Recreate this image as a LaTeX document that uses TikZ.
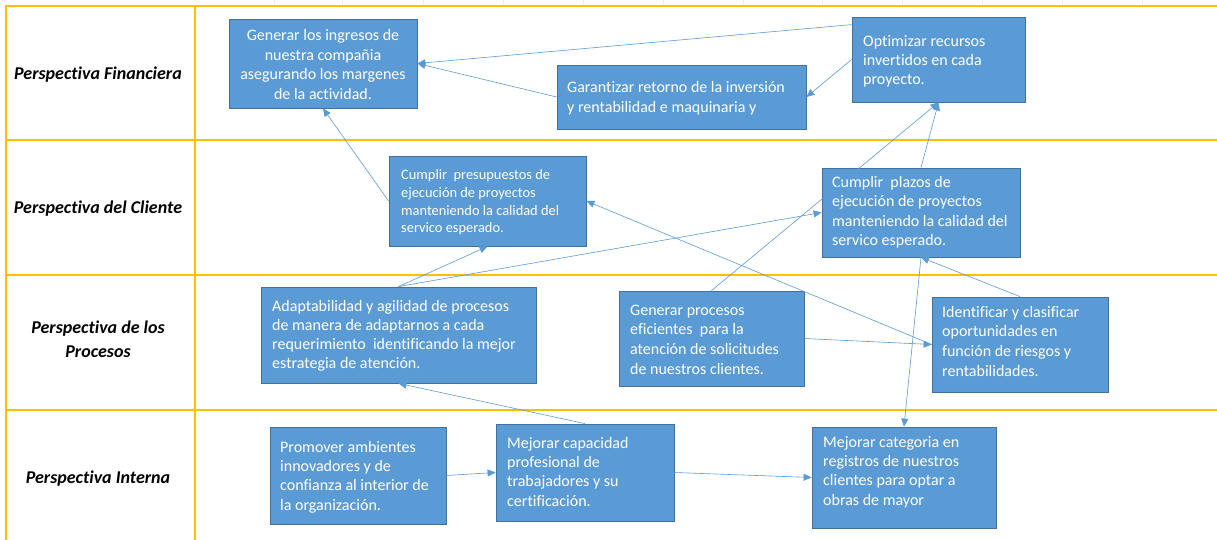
\documentclass[tikz,border=0pt]{standalone}
\usepackage{fontspec}
\setmainfont{Carlito}[Ligatures={NoCommon}]
\usetikzlibrary{arrows.meta,calc}
\definecolor{boxfill}{HTML}{5B9BD5}
\definecolor{boxline}{HTML}{41719C}
\definecolor{linkcol}{HTML}{5B9BD5}
\definecolor{gridcol}{HTML}{FFC000}
\newcommand{\boxtext}{\fontsize{16}{19.4}\selectfont}
\newcommand{\smallboxtext}{\fontsize{14.4}{17.6}\selectfont}
\newcommand{\rowtitle}{\fontsize{18}{23.3}\selectfont\bfseries\itshape}
\tikzset{
  objbox/.style={draw=boxline, fill=boxfill, line width=0.8pt, inner sep=0pt},
  objtext/.style={anchor=base west, inner sep=0pt, text=white},
  rowlabel/.style={anchor=base, inner sep=0pt, align=center, font=\rowtitle},
  link/.style={draw=linkcol, line width=0.6pt, -{Triangle[length=8pt,width=7pt]}},
  gridline/.style={draw=gridcol, line width=1.3pt},
  tick/.style={draw=black!7, line width=0.5pt}
}
\begin{document}
\begin{tikzpicture}[x=1pt,y=-1pt]
\useasboundingbox (0,0) rectangle (1217,540);
\fill[white] (0,0) rectangle (1217,540);

% faint sheet column marks above the table
\foreach \cx in {274,342,423,503,583,663,743,822,902,982,1062,1142}
  \draw[tick] (\cx,0) -- (\cx,5);

% table rules
\draw[gridline] (6,540) -- (6,6) -- (1217,6);
\draw[gridline] (195,6) -- (195,540);
\foreach \ry in {140,275,410}
  \draw[gridline] (6,\ry) -- (1217,\ry);

% row titles
\node[rowlabel] (lfin) at (98,80) {Perspectiva Financiera};
\node[rowlabel] (lcli) at (98,213) {Perspectiva del Cliente};
\node[rowlabel, anchor=north] (lpro) at (98,321) {Perspectiva de los\\Procesos};
\node[rowlabel] (lint) at (98,483) {Perspectiva Interna};

% objective boxes
\node[objbox, minimum width=188, minimum height=89] (gen) at (323,63.5) {};
\node[objbox, minimum width=249, minimum height=64] (gar) at (681.5,97) {};
\node[objbox, minimum width=173, minimum height=85] (opt) at (938.5,59.5) {};
\node[objbox, minimum width=197, minimum height=90] (cp) at (487.5,201) {};
\node[objbox, minimum width=198, minimum height=89] (pl) at (921,212.5) {};
\node[objbox, minimum width=275, minimum height=96] (ad) at (398.5,335) {};
\node[objbox, minimum width=185, minimum height=95] (gp) at (711.5,338.5) {};
\node[objbox, minimum width=176, minimum height=95] (id) at (1020,344.5) {};
\node[objbox, minimum width=176, minimum height=97] (pr) at (358,475.5) {};
\node[objbox, minimum width=178, minimum height=97] (mcap) at (585,472.5) {};
\node[objbox, minimum width=184, minimum height=101] (mc) at (904,477.5) {};

% box texts (placed at the first baseline)
\node[objtext, anchor=base] (gent) at (323,41) {\parbox[t]{188pt}{\boxtext\centering
  Generar los ingresos de\\nuestra compañia\\asegurando los margenes\\de la actividad.}};
\node[objtext] (gart) at (567,93) {\parbox[t]{240pt}{\fontsize{16}{20}\selectfont
  Garantizar retorno de la inversión\\y rentabilidad e maquinaria y}};
\node[objtext] (optt) at (863,47) {\parbox[t]{160pt}{\fontsize{16}{19}\selectfont
  Optimizar recursos\\invertidos en cada\\proyecto.}};
\node[objtext] (cpt) at (401,180) {\parbox[t]{185pt}{\smallboxtext
  Cumplir\ \ presupuestos de\\ejecución de proyectos\\manteniendo la calidad del\\servico esperado.}};
\node[objtext] (plt) at (832,187.5) {\parbox[t]{185pt}{\boxtext
  Cumplir\ \ plazos de\\ejecución de proyectos\\manteniendo la calidad del\\servico esperado.}};
\node[objtext] (adt) at (272,311) {\parbox[t]{265pt}{\fontsize{16}{19}\selectfont
  Adaptabilidad y agilidad de procesos\\de manera de adaptarnos a cada\\requerimiento\ \ identificando la mejor\\estrategia de atención.}};
\node[objtext] (gpt) at (630,315) {\parbox[t]{175pt}{\fontsize{16}{19.7}\selectfont
  Generar procesos\\eficientes\ \ para la\\atención de solicitudes\\de nuestros clientes.}};
\node[objtext] (idt) at (942,317) {\parbox[t]{165pt}{\fontsize{16}{19.7}\selectfont
  Identificar y clasificar\\oportunidades en\\función de riesgos y\\rentabilidades.}};
\node[objtext] (prt) at (280,452) {\parbox[t]{165pt}{\boxtext
  Promover ambientes\\innovadores y de\\confianza al interior de\\la organización.}};
\node[objtext] (mcapt) at (507,448) {\parbox[t]{165pt}{\boxtext
  Mejorar capacidad\\profesional de\\trabajadores y su\\certificación.}};
\node[objtext] (mct) at (823,447) {\parbox[t]{170pt}{\boxtext
  Mejorar categoria en\\registros de nuestros\\clientes para optar a\\obras de mayor}};

% cause-effect links
\draw[link] ($(opt.north west)+(0,8)$) -- (gen.east);
\draw[link] (gar.west) -- (gen.east);
\draw[link] (opt.west) -- (gar.east);
\draw[link] (cp.west) -- (gen.south);
\draw[link] (gp.north) -- (opt.south);
\draw[link] (pl.north) -- (opt.south);
\draw[link] (ad.north) -- (cp.south);
\draw[link] (ad.north) -- (pl.west);
\draw[link] (id.west) -- (cp.east);
\draw[link] (gp.east) -- (id.west);
\draw[link] (id.north) -- (pl.south);
\draw[link] (pl.south) -- (mc.north);
\draw[link] (mcap.north) -- (ad.south);
\draw[link] (pr.east) -- (mcap.west);
\draw[link] (mcap.east) -- (mc.west);
\end{tikzpicture}
\end{document}
